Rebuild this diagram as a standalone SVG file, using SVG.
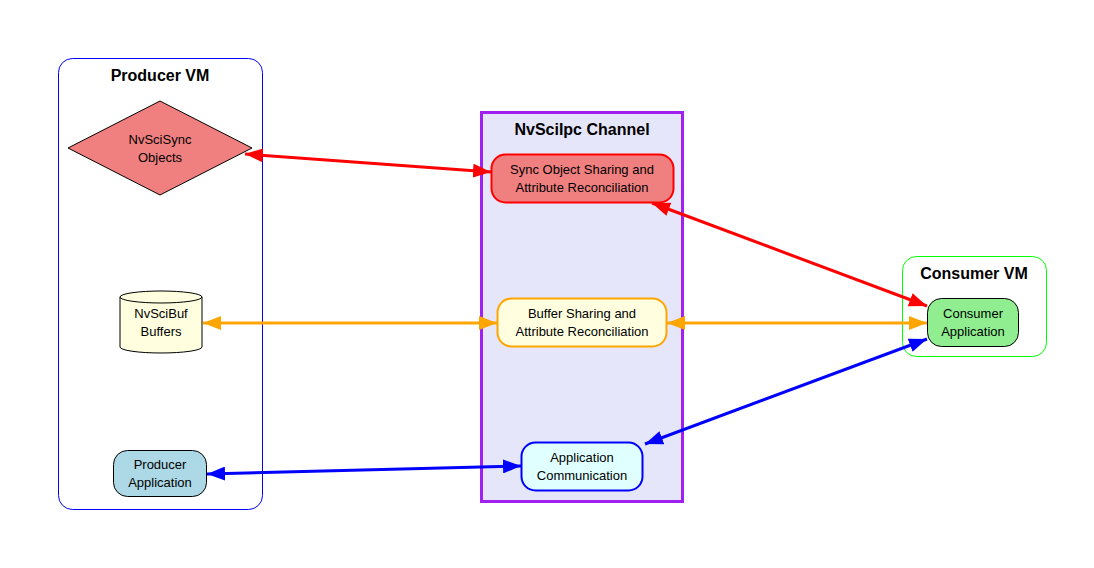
<svg xmlns="http://www.w3.org/2000/svg" width="1094" height="568" viewBox="0 0 1094 568">
<style>
text{font-family:"Liberation Sans",Arial,sans-serif;fill:#000;text-anchor:middle}
.t{font-size:13px}
.h{font-size:16px;font-weight:bold}
.e{fill:none;stroke-width:3}
</style>
<defs>
<marker id="ar" viewBox="0 0 18 14" refX="18" refY="7" markerWidth="18" markerHeight="14" markerUnits="userSpaceOnUse" orient="auto-start-reverse"><path d="M0,0L18,7L0,14z" fill="#ff0000"/></marker>
<marker id="ao" viewBox="0 0 18 14" refX="18" refY="7" markerWidth="18" markerHeight="14" markerUnits="userSpaceOnUse" orient="auto-start-reverse"><path d="M0,0L18,7L0,14z" fill="#ffa500"/></marker>
<marker id="ab" viewBox="0 0 18 14" refX="18" refY="7" markerWidth="18" markerHeight="14" markerUnits="userSpaceOnUse" orient="auto-start-reverse"><path d="M0,0L18,7L0,14z" fill="#0000ff"/></marker>
</defs>
<rect width="1094" height="568" fill="#fff"/>
<g id="producer_vm">
<rect x="58.5" y="58.5" width="204" height="451" rx="14" fill="none" stroke="#0000ff"/>
<text class="h" x="160" y="81">Producer VM</text>
</g>
<g id="channel">
<rect x="481.5" y="112.5" width="201" height="389" fill="#e6e6fa" stroke="#a020f0" stroke-width="3"/>
<text class="h" x="582" y="135">NvSciIpc Channel</text>
</g>
<g id="consumer_vm">
<rect x="902.5" y="256.5" width="144" height="100" rx="14" fill="none" stroke="#00ff00"/>
<text class="h" x="974" y="279">Consumer VM</text>
</g>
<g id="sync_objects">
<path d="M160,101L252,148L160,195L68,148z" fill="#f08080" stroke="#000"/>
<text class="t" x="160" y="144">NvSciSync</text><text class="t" x="160" y="162">Objects</text>
</g>
<g id="buffers">
<path d="M120,297V347A41,6 0 0 0 202,347V297A41,6 0 0 0 120,297A41,6 0 0 0 202,297" fill="#ffffe0" stroke="#000"/>
<text class="t" x="161" y="318">NvSciBuf</text><text class="t" x="161" y="336">Buffers</text>
</g>
<g id="producer_app">
<rect x="113.5" y="450.5" width="93" height="46" rx="14" fill="#add8e6" stroke="#000"/>
<text class="t" x="160" y="469">Producer</text><text class="t" x="160" y="487">Application</text>
</g>
<g id="sync_sharing">
<rect x="491.5" y="154.5" width="182" height="48" rx="14" fill="#f08080" stroke="#ff0000" stroke-width="2"/>
<text class="t" x="582" y="174">Sync Object Sharing and</text><text class="t" x="582" y="192">Attribute Reconciliation</text>
</g>
<g id="buffer_sharing">
<rect x="497.5" y="298.5" width="169" height="48" rx="14" fill="#ffffe0" stroke="#ffa500" stroke-width="2"/>
<text class="t" x="582" y="318">Buffer Sharing and</text><text class="t" x="582" y="336">Attribute Reconciliation</text>
</g>
<g id="app_comm">
<rect x="521.5" y="442.5" width="121" height="48" rx="14" fill="#e0ffff" stroke="#0000ff" stroke-width="2"/>
<text class="t" x="582" y="462">Application</text><text class="t" x="582" y="480">Communication</text>
</g>
<g id="consumer_app">
<rect x="927.5" y="298.5" width="91" height="48" rx="14" fill="#90ee90" stroke="#000"/>
<text class="t" x="973" y="318">Consumer</text><text class="t" x="973" y="336">Application</text>
</g>
<g id="connectors">
<line class="e" x1="245" y1="154" x2="491" y2="172" stroke="#ff0000" marker-start="url(#ar)" marker-end="url(#ar)"/>
<line class="e" x1="652" y1="203" x2="927" y2="306" stroke="#ff0000" marker-start="url(#ar)" marker-end="url(#ar)"/>
<line class="e" x1="203" y1="323" x2="497" y2="323" stroke="#ffa500" marker-start="url(#ao)" marker-end="url(#ao)"/>
<line class="e" x1="667" y1="323" x2="927" y2="323" stroke="#ffa500" marker-start="url(#ao)" marker-end="url(#ao)"/>
<line class="e" x1="207" y1="474" x2="521" y2="466" stroke="#0000ff" marker-start="url(#ab)" marker-end="url(#ab)"/>
<line class="e" x1="645" y1="444" x2="927" y2="339" stroke="#0000ff" marker-start="url(#ab)" marker-end="url(#ab)"/>
</g>
</svg>
